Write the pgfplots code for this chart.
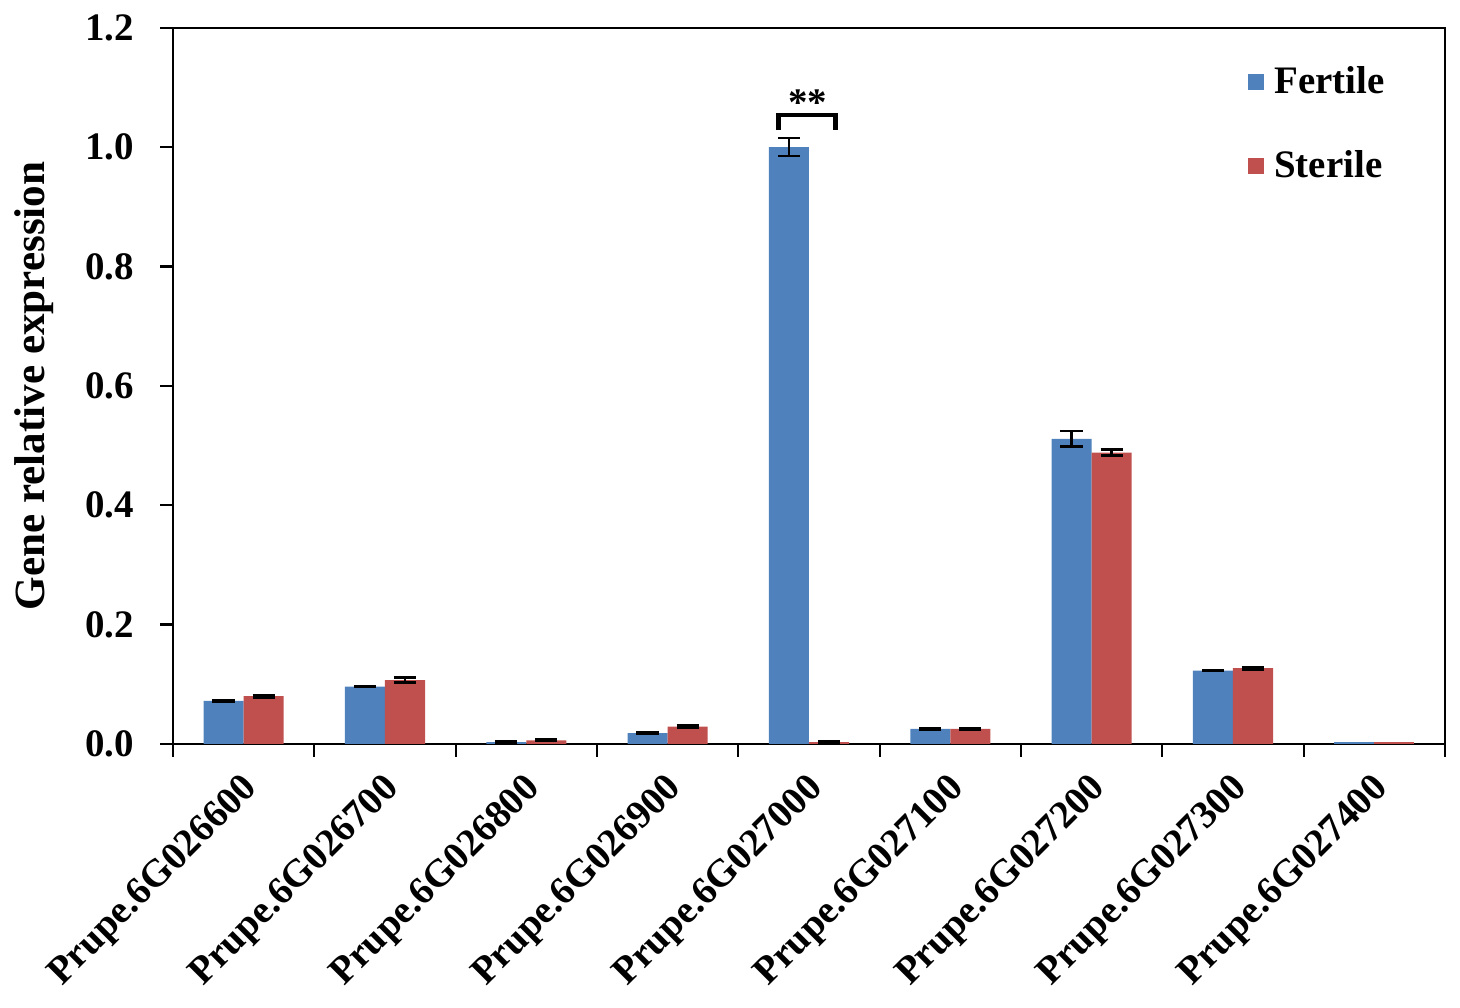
\documentclass[border=0pt]{standalone}
\usepackage{fontspec}
\setmainfont{Liberation Serif}
\usepackage{pgfplots}
\pgfplotsset{compat=1.18}
\definecolor{fblue}{HTML}{4F81BD}
\definecolor{sred}{HTML}{C0504D}
\begin{document}
\begin{tikzpicture}
\path (-62.2pt,-94.9pt) rectangle (462.8pt,267.5pt);
\begin{axis}[
  at={(0,0)}, anchor=south west,
  scale only axis,
  width=457.4pt, height=257.5pt,
  xmin=-0.5, xmax=8.5,
  ymin=0, ymax=1.2,
  ytick={0,0.2,...,1.2},
  xtick={0,...,8},
  xticklabels={Prupe.6G026600,Prupe.6G026700,Prupe.6G026800,Prupe.6G026900,Prupe.6G027000,Prupe.6G027100,Prupe.6G027200,Prupe.6G027300,Prupe.6G027400},
  minor xtick={-0.5,0.5,...,8.5},
  major x tick style={draw=none},
  minor tick length=4.6pt,
  major tick length=4.6pt,
  tick align=outside,
  xtick pos=bottom, ytick pos=left,
  axis line style={black, line width=0.8pt},
  tick style={black, line width=0.8pt},
  /pgf/number format/.cd, fixed, fixed zerofill, precision=1, assume math mode=true,
  /pgfplots/.cd,
  every tick label/.append style={font=\bfseries\fontsize{14}{16}\selectfont},
  yticklabel style={xshift=-6pt},
  xticklabel style={rotate=45, anchor=east, xshift=-1pt, yshift=-9pt},
  ylabel={Gene relative expression},
  every axis y label/.style={at={(axis description cs:-0.1095,0.5)}, rotate=90, anchor=center, font=\bfseries\fontsize{15.5}{18}\selectfont},
  ybar, bar width=14.4pt,
  legend style={draw=none, fill=none, at={(0.845,0.955)}, anchor=north west, font=\bfseries\fontsize{14}{16}\selectfont, row sep=15pt, inner sep=0pt, /tikz/every even column/.append style={column sep=0pt}},
  legend cell align=left,
  legend image code/.code={\draw[#1,draw=none] (0pt,-2.9pt) rectangle (5.8pt,2.9pt);},
  error bars/error bar style={black, line width=0.9pt},
  error bars/error mark options={rotate=90, mark size=4pt, black, line width=0.9pt},
]
\addplot[fill=fblue, draw=none, bar shift=-7.2pt,
  error bars/.cd, y dir=both, y explicit] coordinates {
  (0,0.072) +- (0,0.002)
  (1,0.096) +- (0,0.001)
  (2,0.003) +- (0,0.001)
  (3,0.018) +- (0,0.001)
  (4,1.000) +- (0,0.015)
  (5,0.025) +- (0,0.002)
  (6,0.511) +- (0,0.013)
  (7,0.123) +- (0,0.001)
};
\addlegendentry{\hspace{1.5pt}Fertile}
\addplot[fill=sred, draw=none, bar shift=7.2pt,
  error bars/.cd, y dir=both, y explicit] coordinates {
  (0,0.080) +- (0,0.002)
  (1,0.107) +- (0,0.004)
  (2,0.006) +- (0,0.001)
  (3,0.029) +- (0,0.002)
  (4,0.003) +- (0,0.001)
  (5,0.025) +- (0,0.002)
  (6,0.488) +- (0,0.005)
  (7,0.127) +- (0,0.002)
};
\addlegendentry{\hspace{1.5pt}Sterile}
\addplot[fill=fblue, draw=none, bar shift=-7.2pt, forget plot] coordinates {(8,0.004)};
\addplot[fill=sred, draw=none, bar shift=7.2pt, forget plot] coordinates {(8,0.004)};
\draw[black, line width=1.6pt] (axis cs:3.784,1.029) -- (axis cs:3.784,1.054) -- (axis cs:4.188,1.054) -- (axis cs:4.188,1.029);
\node[font=\bfseries\fontsize{14}{16}\selectfont] at (axis cs:3.99,1.075) {**};
\end{axis}
\end{tikzpicture}
\end{document}
